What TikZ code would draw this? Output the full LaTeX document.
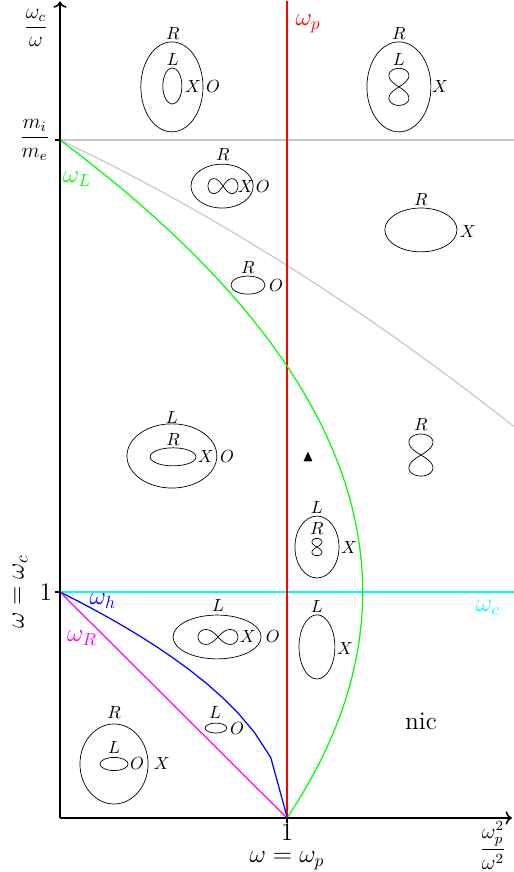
\documentclass[tikz,border=0pt]{standalone}
\usepackage{amsmath,amssymb}
\usetikzlibrary{arrows.meta}

\definecolor{cyanline}{rgb}{0,1,1}
\definecolor{magline}{rgb}{1,0,1}
\definecolor{greenline}{rgb}{0,1,0}
\definecolor{grayline}{rgb}{0.79,0.79,0.79}

\tikzset{
  lbl/.style={inner sep=0.5pt},
  big/.style={font=\Large},
  frac/.style={font=\large, inner sep=0.5pt},
  infh/.pic={\draw plot[domain=0:360,samples=73,smooth] ({cos(\x)/(1+sin(\x)^2)},{2.828*sin(\x)*cos(\x)/(1+sin(\x)^2)});},
  infv/.pic={\draw plot[domain=0:360,samples=73,smooth] ({2.828*sin(\x)*cos(\x)/(1+sin(\x)^2)},{cos(\x)/(1+sin(\x)^2)});},
}

\begin{document}
\begin{tikzpicture}[x=4.54cm,y=4.52cm]
\useasboundingbox (-0.2643,-0.2389) rectangle (2.0000,3.6195);
\draw[line width=0.7pt, grayline] (0.0000,3.0000) -- (2.0000,3.0000);
\draw[line width=0.7pt, grayline] plot[domain=0:2,samples=40,smooth] (\x,{3-0.476*\x-0.079*\x*\x});
\draw[line width=0.7pt, cyanline] (0.0000,1.0000) -- (2.0000,1.0000);
\draw[line width=0.7pt, red] (1.0000,0.0000) -- (1.0000,3.6130);
\draw[line width=0.7pt, greenline] plot[domain=0:3,samples=60,smooth] ({1+\x*(2-\x)/3},\x);
\draw[line width=0.7pt, blue] plot[domain=0:1,samples=15] (\x,{sqrt(1-\x)});
\draw[line width=0.7pt, magline] (0.0000,1.0000) -- (1.0000,0.0000);
\draw[line width=0.9pt, ->] (0.0000,0.0000) -- (0.0000,3.6130);
\draw[line width=0.9pt, ->] (0.0000,0.0000) -- (1.9910,0.0000);
\draw[line width=0.9pt] (-0.0220,3.0000) -- (0.0000,3.0000);
\draw[line width=0.9pt] (-0.0220,1.0000) -- (0.0000,1.0000);
\draw[line width=0.9pt] (1.0000,-0.0220) -- (1.0000,0.0000);
\node[frac] (ylab) at (-0.1060,3.4960) {$\dfrac{\omega_c}{\omega}$};
\node[left, frac] (mime) at (-0.0400,3.0000) {$\dfrac{m_i}{m_e}$};
\node[left, lbl, big] (oney) at (-0.0300,1.0000) {$1$};
\node[rotate=90, big] (wc) at (-0.1760,1.0000) {$\omega=\omega_c$};
\node[below, lbl, big] (onex) at (1.0000,-0.0200) {$1$};
\node[lbl, big] (wp) at (1.0000,-0.1900) {$\omega=\omega_p$};
\node[frac] (xlab) at (1.9070,-0.1220) {$\dfrac{\omega_p^2}{\omega^2}$};
\node[red, big] (lp) at (1.0930,3.5130) {$\omega_p$};
\node[greenline, big] (lL) at (0.0750,2.8270) {$\omega_L$};
\node[blue, big] (lh) at (0.1890,0.9600) {$\omega_h$};
\node[magline, big] (lR) at (0.0970,0.7960) {$\omega_R$};
\node[cyanline, big] (lc) at (1.8850,0.9290) {$\omega_c$};
\node (tri) at (1.0930,1.5970) {\small$\blacktriangle$};
\node[big] (nic) at (1.5900,0.4290) {nic};
\draw (0.4930,3.2350) ellipse (0.1370 and 0.1990);
\draw (0.4950,3.2390) ellipse (0.0420 and 0.0800);
\node[lbl] (aR) at (0.4970,3.4730) {$R$};
\node[lbl] (aL) at (0.4970,3.3540) {$L$};
\node[lbl] (aX) at (0.5860,3.2350) {$X$};
\node[lbl] (aO) at (0.6740,3.2350) {$O$};
\draw (1.4930,3.2350) ellipse (0.1410 and 0.1990);
\pic[xscale=0.0440, yscale=0.0820] at (1.4930,3.2350) {infv};
\node[lbl] (bR) at (1.4930,3.4730) {$R$};
\node[lbl] (bL) at (1.4930,3.3540) {$L$};
\node[lbl] (bX) at (1.6740,3.2350) {$X$};
\draw (0.7140,2.7960) ellipse (0.1370 and 0.0970);
\pic[xscale=0.0660, yscale=0.0330] at (0.7180,2.7960) {infh};
\node[lbl] (cR) at (0.7180,2.9340) {$R$};
\node[lbl] (cX) at (0.8190,2.7960) {$X$};
\node[lbl] (cO) at (0.8940,2.7960) {$O$};
\draw (0.8280,2.3580) ellipse (0.0750 and 0.0400);
\node[lbl] (dR) at (0.8280,2.4380) {$R$};
\node[lbl] (dO) at (0.9520,2.3580) {$O$};
\draw (1.5900,2.6020) ellipse (0.1590 and 0.0970);
\node[lbl] (eR) at (1.5900,2.7350) {$R$};
\node[lbl] (eX) at (1.7970,2.5930) {$X$};
\pic[xscale=0.0530, yscale=0.0930] at (1.5900,1.6060) {infv};
\node[lbl] (fR) at (1.5900,1.7390) {$R$};
\draw (0.4930,1.6020) ellipse (0.1980 and 0.1420);
\draw (0.4980,1.5980) ellipse (0.1010 and 0.0400);
\node[lbl] (gL) at (0.4930,1.7740) {$L$};
\node[lbl] (gR) at (0.4980,1.6730) {$R$};
\node[lbl] (gX) at (0.6430,1.5980) {$X$};
\node[lbl] (gO) at (0.7360,1.5980) {$O$};
\draw (1.1320,1.1990) ellipse (0.0970 and 0.1370);
\pic[xscale=0.0220, yscale=0.0380] at (1.1320,1.1990) {infv};
\node[lbl] (hL) at (1.1320,1.3760) {$L$};
\node[lbl] (hR) at (1.1320,1.2830) {$R$};
\node[lbl] (hX) at (1.2730,1.1990) {$X$};
\draw (0.6920,0.8010) ellipse (0.1940 and 0.0970);
\pic[xscale=0.0880, yscale=0.0330] at (0.6960,0.8010) {infh};
\node[lbl] (iL) at (0.6960,0.9420) {$L$};
\node[lbl] (iX) at (0.8280,0.8010) {$X$};
\node[lbl] (iO) at (0.9380,0.8010) {$O$};
\draw (1.1320,0.7570) ellipse (0.0790 and 0.1420);
\node[lbl] (jL) at (1.1320,0.9380) {$L$};
\node[lbl] (jX) at (1.2560,0.7520) {$X$};
\draw (0.6870,0.3980) ellipse (0.0480 and 0.0220);
\node[lbl] (kL) at (0.6830,0.4650) {$L$};
\node[lbl] (kO) at (0.7800,0.3980) {$O$};
\draw (0.2380,0.2390) ellipse (0.1500 and 0.1770);
\draw (0.2380,0.2390) ellipse (0.0620 and 0.0290);
\node[lbl] (mR) at (0.2380,0.4650) {$R$};
\node[lbl] (mL) at (0.2380,0.3100) {$L$};
\node[lbl] (mO) at (0.3390,0.2390) {$O$};
\node[lbl] (mX) at (0.4490,0.2390) {$X$};
\end{tikzpicture}
\end{document}
